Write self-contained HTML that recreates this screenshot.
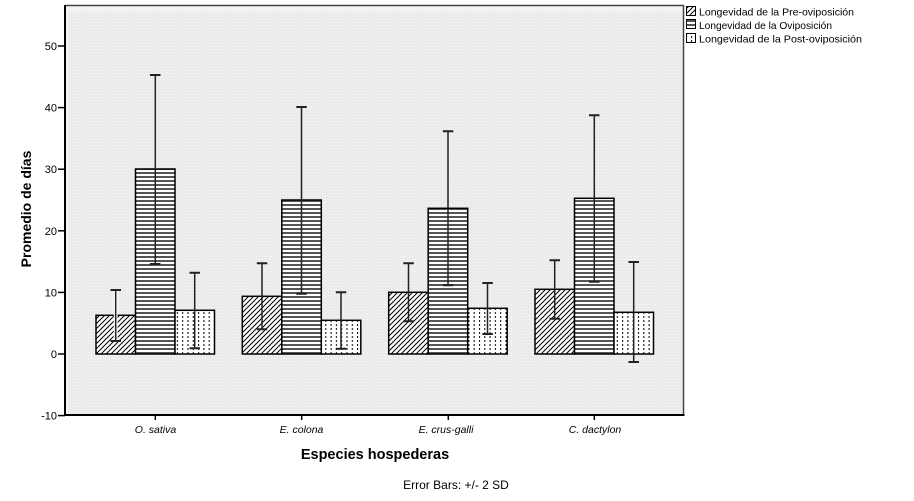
<!DOCTYPE html>
<html><head><meta charset="utf-8"><style>
html,body{margin:0;padding:0;background:#fff;}
svg{display:block;font-family:"Liberation Sans",Arial,sans-serif;}
</style></head><body>
<svg width="914" height="501" viewBox="0 0 914 501" xmlns="http://www.w3.org/2000/svg">
<defs>
<pattern id="diag" patternUnits="userSpaceOnUse" width="5" height="5">
<rect width="5" height="5" fill="#fff"/>
<path d="M-1,6 L6,-1 M-1,1 L1,-1 M4,6 L6,4" stroke="#000" stroke-width="1"/>
</pattern>
<pattern id="horiz" patternUnits="userSpaceOnUse" width="4" height="4">
<rect width="4" height="4" fill="#fff"/>
<rect y="0" width="4" height="2" fill="#555"/>
</pattern>
<pattern id="vdash" patternUnits="userSpaceOnUse" width="5.3" height="4">
<rect width="5.3" height="4" fill="#fff"/>
<rect x="2" y="0" width="1" height="2" fill="#000"/>
</pattern>
<pattern id="dots" patternUnits="userSpaceOnUse" width="3" height="3">
<rect width="3" height="3" fill="#ebebeb"/>
<rect x="1" y="1" width="1" height="1" fill="#f7f7f7"/>
</pattern>
</defs>

<!-- plot background -->
<rect x="65" y="5" width="619" height="410" fill="#f3f3f3"/>
<rect x="68" y="12" width="614" height="402" fill="url(#dots)"/>
<line x1="65" y1="5.5" x2="684" y2="5.5" stroke="#444" stroke-width="1.5"/>
<line x1="683.5" y1="5" x2="683.5" y2="415" stroke="#444" stroke-width="1.5"/>

<!-- bars -->
<g stroke="#000" stroke-width="1.5">
<!-- O. sativa -->
<rect x="96" y="315.3" width="39.5" height="38.7" fill="url(#diag)"/>
<rect x="135.5" y="169" width="39.5" height="185" fill="url(#horiz)"/>
<rect x="175" y="310.3" width="39.5" height="43.7" fill="url(#vdash)"/>
<!-- E. colona -->
<rect x="242.3" y="296.3" width="39.5" height="57.7" fill="url(#diag)"/>
<rect x="281.8" y="200" width="39.5" height="154" fill="url(#horiz)"/>
<rect x="321.3" y="320.3" width="39.5" height="33.7" fill="url(#vdash)"/>
<!-- E. crus-galli -->
<rect x="388.7" y="292.3" width="39.5" height="61.7" fill="url(#diag)"/>
<rect x="428.2" y="208.3" width="39.5" height="145.7" fill="url(#horiz)"/>
<rect x="467.7" y="308.3" width="39.5" height="45.7" fill="url(#vdash)"/>
<!-- C. dactylon -->
<rect x="535" y="289.3" width="39.5" height="64.7" fill="url(#diag)"/>
<rect x="574.5" y="198.3" width="39.5" height="155.7" fill="url(#horiz)"/>
<rect x="614" y="312.3" width="39.5" height="41.7" fill="url(#vdash)"/>
</g>

<!-- error bars: halo -->
<g stroke="#fff" stroke-width="4" fill="none" opacity="0.9">
<path d="M115.7,290 V341 M135.7-0,0 M155.3,75 V264 M194.7,272.7 V348.3
M262,263.3 V329.3 M301.5,107 V293.7 M341,292.3 V348.7
M408.5,263.3 V321.3 M448,131.3 V285.3 M487.5,283 V334
M554.7,260.3 V318.7 M594.3,115.3 V281.7 M633.7,262 V362"/>
</g>
<g stroke="#222" stroke-width="1.5" fill="none">
<path d="M115.7,290 V341 M155.3,75 V264 M194.7,272.7 V348.3
M262,263.3 V329.3 M301.5,107 V293.7 M341,292.3 V348.7
M408.5,263.3 V321.3 M448,131.3 V285.3 M487.5,283 V334
M554.7,260.3 V318.7 M594.3,115.3 V281.7 M633.7,262 V362"/>
</g>
<g stroke="#222" stroke-width="2" fill="none">
<path d="M110.5,290 h10.5 M110.5,341 h10.5
M150,75 h10.5 M150,264 h10.5
M189.5,272.7 h10.5 M189.5,348.3 h10.5
M256.8,263.3 h10.5 M256.8,329.3 h10.5
M296.3,107 h10.5 M296.3,293.7 h10.5
M335.8,292.3 h10.5 M335.8,348.7 h10.5
M403.3,263.3 h10.5 M403.3,321.3 h10.5
M442.8,131.3 h10.5 M442.8,285.3 h10.5
M482.3,283 h10.5 M482.3,334 h10.5
M549.5,260.3 h10.5 M549.5,318.7 h10.5
M589,115.3 h10.5 M589,281.7 h10.5
M628.5,262 h10.5 M628.5,362 h10.5"/>
</g>

<!-- axes -->
<line x1="65" y1="5" x2="65" y2="416" stroke="#000" stroke-width="2"/>
<line x1="64" y1="415" x2="684.5" y2="415" stroke="#000" stroke-width="2"/>
<g stroke="#000" stroke-width="1.5">
<line x1="58" y1="46" x2="65" y2="46"/>
<line x1="58" y1="107.6" x2="65" y2="107.6"/>
<line x1="58" y1="169.2" x2="65" y2="169.2"/>
<line x1="58" y1="230.8" x2="65" y2="230.8"/>
<line x1="58" y1="292.4" x2="65" y2="292.4"/>
<line x1="58" y1="354" x2="65" y2="354"/>
<line x1="58" y1="415.6" x2="65" y2="415.6"/>
<line x1="155.3" y1="415" x2="155.3" y2="420"/>
<line x1="301.7" y1="415" x2="301.7" y2="420"/>
<line x1="448.3" y1="415" x2="448.3" y2="420"/>
<line x1="594.3" y1="415" x2="594.3" y2="420"/>
</g>
<g font-size="11" text-anchor="end" fill="#000">
<text x="57" y="50">50</text>
<text x="57" y="111.6">40</text>
<text x="57" y="173.2">30</text>
<text x="57" y="234.8">20</text>
<text x="57" y="296.4">10</text>
<text x="57" y="358">0</text>
<text x="57" y="419.6">-10</text>
</g>
<g font-size="10.5" font-style="italic" text-anchor="middle" fill="#000">
<text x="155.5" y="433">O. sativa</text>
<text x="301.5" y="433">E. colona</text>
<text x="446" y="433">E. crus-galli</text>
<text x="595" y="433">C. dactylon</text>
</g>
<text x="375" y="459" font-size="14.5" font-weight="bold" text-anchor="middle">Especies hospederas</text>
<text x="456" y="489" font-size="12" text-anchor="middle">Error Bars: +/- 2 SD</text>
<text transform="translate(31,209) rotate(-90)" font-size="14" font-weight="bold" text-anchor="middle">Promedio de días</text>

<!-- legend -->
<g stroke="#000" stroke-width="1">
<rect x="686.5" y="6.5" width="9" height="9" fill="url(#diag)"/>
<rect x="686.5" y="19.5" width="9" height="9" fill="url(#horiz)"/>
<rect x="686.5" y="33.5" width="9" height="9" fill="url(#vdash)"/>
</g>
<g font-size="10.5" fill="#000">
<text x="699" y="15.5" textLength="155" lengthAdjust="spacingAndGlyphs">Longevidad de la Pre-oviposición</text>
<text x="699" y="29" textLength="133" lengthAdjust="spacingAndGlyphs">Longevidad de la Oviposición</text>
<text x="699" y="42.5" textLength="163" lengthAdjust="spacingAndGlyphs">Longevidad de la Post-oviposición</text>
</g>
</svg>
</body></html>
